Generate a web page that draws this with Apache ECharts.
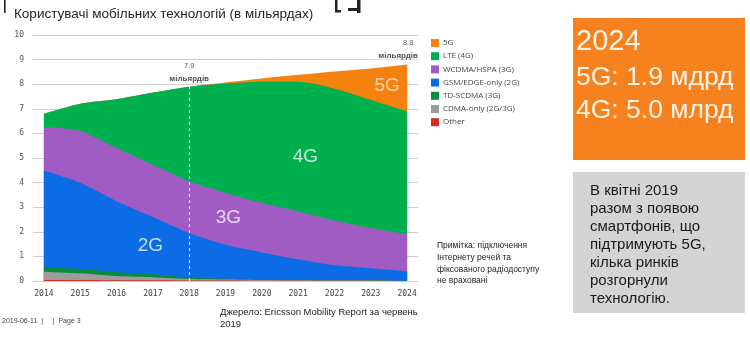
<!DOCTYPE html>
<html>
<head>
<meta charset="utf-8">
<script src="https://cdn.jsdelivr.net/npm/echarts@6/dist/echarts.min.js"></script>
<style>
  html, body { margin: 0; padding: 0; background: #fff; }
  #chart { width: 750px; height: 338px; }
</style>
</head>
<body>
<div id="chart"></div>
<script>
// Mobile subscriptions by technology, billions
const years = [2014, 2015, 2016, 2017, 2018, 2019, 2020, 2021, 2022, 2023, 2024];
const other    = [0.04, 0.04, 0.03, 0.03, 0.02, 0.02, 0.01, 0.01, 0.01, 0.01, 0.01];
const cdma     = [0.34, 0.27, 0.17, 0.12, 0.06, 0.04, 0.03, 0.02, 0.01, 0.01, 0.01];
const tdscdma  = [0.18, 0.18, 0.16, 0.12, 0.05, 0.03, 0.02, 0.01, 0.01, 0.01, 0.01];
const gsm      = [3.93, 3.50, 2.88, 2.33, 1.82, 1.38, 1.10, 0.84, 0.61, 0.49, 0.37];
const wcdma    = [1.77, 2.11, 2.17, 2.13, 2.10, 2.11, 2.01, 1.95, 1.82, 1.63, 1.50];
const lte      = [0.54, 1.11, 1.98, 2.93, 3.85, 4.45, 4.93, 5.27, 5.36, 5.21, 5.00];
const nr5g     = [0.00, 0.00, 0.00, 0.00, 0.00, 0.04, 0.13, 0.28, 0.70, 1.28, 1.90];
const yTicks   = [0, 1, 2, 3, 4, 5, 6, 7, 8, 9, 10];

// stacking order, bottom to top
const layers = [
  { name: 'Other',              data: other,   color: '#d92a22' },
  { name: 'CDMA-only (2G/3G)',  data: cdma,    color: '#9c9c9c' },
  { name: 'TD-SCDMA (3G)',      data: tdscdma, color: '#0b8c3c' },
  { name: 'GSM/EDGE-only (2G)', data: gsm,     color: '#0c6ce6' },
  { name: 'WCDMA/HSPA (3G)',    data: wcdma,   color: '#a05cc3' },
  { name: 'LTE (4G)',           data: lte,     color: '#00b04f' },
  { name: '5G',                 data: nr5g,    color: '#f5820f' }
];

// running top edge of each layer
let running = years.map(() => 0);
layers.forEach(l => {
  running = running.map((s, i) => s + l.data[i]);
  l.top = running.slice();
});
const totals = running;
const i2018 = years.indexOf(2018);
const i2024 = years.indexOf(2024);

const SANS = 'Liberation Sans, Arial, sans-serif';
const MONO = 'DejaVu Sans Mono, monospace';

// each band is filled down to zero; upper bands are painted first so the
// lower ones sit on top of them
const areaSeries = layers.slice().reverse().map(l => ({
  name: l.name,
  type: 'line',
  smooth: 0.25,
  symbol: 'none',
  lineStyle: { width: 0 },
  itemStyle: { color: l.color },
  areaStyle: { color: l.color, opacity: 1, origin: 'start' },
  data: l.top.map((v, i) => [years[i], v]),
  z: 2
}));

const chart = echarts.init(document.getElementById('chart'), null, { renderer: 'canvas' });

chart.setOption({
  animation: false,
  backgroundColor: '#fff',
  title: {
    text: 'Користувачі мобільних технологій (в мільярдах)',
    left: 9, top: 2,
    textStyle: { fontFamily: SANS, fontSize: 13.5, fontWeight: 'normal', color: '#1e1e1e' }
  },
  legend: {
    orient: 'vertical',
    left: 426, top: 33,
    icon: 'rect',
    itemWidth: 8, itemHeight: 8, itemGap: 3.2,
    data: ['5G', 'LTE (4G)', 'WCDMA/HSPA (3G)', 'GSM/EDGE-only (2G)', 'TD-SCDMA (3G)', 'CDMA-only (2G/3G)', 'Other'],
    textStyle: { fontFamily: 'Open Sans, sans-serif', fontSize: 8, color: '#444', lineHeight: 10, padding: [0, 0, 0, -1] },
    selectedMode: false
  },
  grid: { left: 33, right: 332, top: 35, bottom: 57 },
  xAxis: {
    type: 'value',
    min: 2013.7, max: 2024.3,
    axisLine: { show: false },
    axisTick: { show: false },
    splitLine: { show: false },
    axisLabel: {
      customValues: years,
      formatter: v => String(Math.round(v)),
      fontFamily: MONO, fontSize: 8, color: '#444', margin: 9
    }
  },
  yAxis: {
    type: 'value',
    min: yTicks[0], max: yTicks[yTicks.length - 1], interval: 1,
    axisLine: { show: false },
    axisTick: { show: false },
    splitLine: { lineStyle: { color: '#cdcdcd', width: 1 } },
    axisLabel: { fontFamily: MONO, fontSize: 8, color: '#555', margin: 9 }
  },
  series: [
    ...areaSeries,
    // area captions
    {
      type: 'scatter', symbolSize: 0, silent: true, z: 5,
      label: {
        show: true, position: 'inside', formatter: p => p.name,
        fontFamily: SANS, fontSize: 19, color: '#f2f8ff'
      },
      data: [
        { name: '5G', value: [2023.45, 7.94], label: { color: '#ffe8cf' } },
        { name: '4G', value: [2021.2, 5.05] },
        { name: '3G', value: [2019.08, 2.57] },
        { name: '2G', value: [2016.93, 1.43] }
      ]
    },
    // totals and the 2018 marker
    {
      type: 'scatter', symbolSize: 0, silent: true, z: 6,
      label: {
        show: true, position: 'top', distance: 2,
        formatter: p => '{v|' + p.value[1].toFixed(1) + '}\n{u|мільярдів}',
        rich: {
          v: { fontFamily: SANS, fontSize: 7.5, color: '#333', lineHeight: 13, align: 'center' },
          u: { fontFamily: SANS, fontSize: 8, fontWeight: 'bold', color: '#222', lineHeight: 12,
               backgroundColor: '#fff', padding: [0, 8], align: 'center' }
        }
      },
      data: [
        { value: [2018, totals[i2018]] },
        {
          value: [2024, totals[i2024]],
          label: {
            offset: [-9, -1],
            rich: {
              v: { fontFamily: SANS, fontSize: 7.5, color: '#333', lineHeight: 13, align: 'center', padding: [0, 0, 0, 20] },
              u: { fontFamily: SANS, fontSize: 8, fontWeight: 'bold', color: '#222', lineHeight: 12,
                   backgroundColor: '#fff', padding: [0, 8], align: 'center' }
            }
          }
        }
      ],
      markLine: {
        silent: true, symbol: ['none', 'none'],
        label: { show: false },
        lineStyle: { color: '#ffffff', type: [3, 3], width: 1, opacity: 0.9 },
        data: [[{ coord: [2018, 0] }, { coord: [2018, totals[i2018]] }]]
      }
    }
  ],
  graphic: [
    // cut-off marks along the top edge
    { type: 'rect', shape: { x: 4, y: 0, width: 1.6, height: 13 }, style: { fill: '#222' } },
    { type: 'rect', shape: { x: 335, y: 0, width: 2.5, height: 12 }, style: { fill: '#222' } },
    { type: 'rect', shape: { x: 335, y: 10, width: 6, height: 2.5 }, style: { fill: '#222' } },
    { type: 'rect', shape: { x: 357, y: 0, width: 3.5, height: 13 }, style: { fill: '#222' } },
    { type: 'rect', shape: { x: 348, y: 8, width: 10, height: 3 }, style: { fill: '#222' } },

    // orange summary box
    { type: 'rect', shape: { x: 573, y: 18, width: 172, height: 142 }, style: { fill: '#f5821f' } },
    { type: 'text', x: 576, y: 42, style: { text: String(years[i2024]), font: '29px ' + SANS, fill: '#fff3e3', verticalAlign: 'middle' } },
    { type: 'text', x: 576, y: 78, style: { text: '5G: ' + nr5g[i2024].toFixed(1) + ' мдрд', font: '26.5px ' + SANS, fill: '#fff3e3', verticalAlign: 'middle' } },
    { type: 'text', x: 576, y: 111, style: { text: '4G: ' + lte[i2024].toFixed(1) + ' млрд', font: '26.5px ' + SANS, fill: '#fff3e3', verticalAlign: 'middle' } },

    // grey note box
    { type: 'rect', shape: { x: 573, y: 172, width: 172, height: 141 }, style: { fill: '#d4d4d4' } },
    { type: 'text', x: 590, y: 182, style: {
        text: 'В квітні 2019\nразом з появою\nсмартфонів, що\nпідтримують 5G,\nкілька ринків\nрозгорнули\nтехнологію.',
        font: '15px ' + SANS, lineHeight: 18, fill: '#1a1a1a' } },

    // footnote beside the chart
    { type: 'text', x: 437, y: 240, style: {
        text: 'Примітка: підключення\nІнтернету речей та\nфіксованого радіодоступу\nне враховані',
        font: '8.5px ' + SANS, lineHeight: 11.7, fill: '#222' } },

    // source and page footer
    { type: 'text', x: 220, y: 306, style: {
        text: 'Джерело: Ericsson Mobility Report за червень\n2019',
        font: '9.5px ' + SANS, lineHeight: 12, fill: '#222' } },
    { type: 'text', x: 2, y: 318, style: { text: '2019-06-11  |     |  Page 3', font: '7px ' + SANS, fill: '#444' } }
  ]
});
</script>
</body>
</html>
